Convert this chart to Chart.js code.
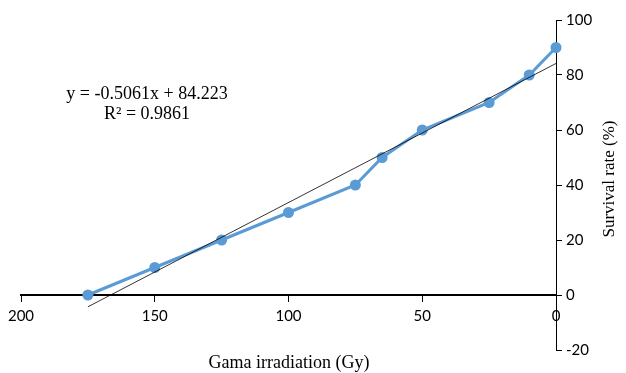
<!DOCTYPE html>
<html>
<head>
<meta charset="utf-8">
<script src="https://cdn.jsdelivr.net/npm/chart.js@4"></script>
<style>
  html, body { margin: 0; padding: 0; background: #fff; }
  #wrap { width: 626px; height: 373px; }
</style>
</head>
<body>
<div id="wrap"><canvas id="myChart"></canvas></div>
<script>
// dosis (Gy) y supervivencia (%)
const doses = [175, 150, 125, 100, 75, 65, 50, 25, 10, 0];
const survival = [0, 10, 20, 30, 40, 50, 60, 70, 80, 90];

// linea de tendencia (extremos)
const trendX = [175, 0];
const trendY = [-4.3, 84.2];

const xTicks = [200, 150, 100, 50, 0];
const yTicks = [-20, 0, 20, 40, 60, 80, 100];

const equationText = 'y = -0.5061x + 84.223';
const r2Text = 'R\u00B2 = 0.9861';
const xTitle = 'Gama irradiation (Gy)';
const yTitle = 'Survival rate (%)';

const pts = doses.map((d, i) => ({ x: d, y: survival[i] }));
const trendPts = trendX.map((d, i) => ({ x: d, y: trendY[i] }));

const serif = '"Liberation Serif", "Times New Roman", serif';

const extraText = {
    id: 'extraText',
    afterDraw(chart) {
        const ctx = chart.ctx;
        ctx.save();
        ctx.fillStyle = '#000';
        ctx.textAlign = 'center';
        ctx.textBaseline = 'middle';

        // ecuacion de la tendencia
        ctx.font = '18px ' + serif;
        ctx.fillText(equationText, 147, 94);
        ctx.fillText(r2Text, 147, 114);

        // titulos de los ejes
        ctx.font = '18px ' + serif;
        ctx.fillText(xTitle, 289, 363);

        ctx.font = '17px ' + serif;
        ctx.translate(610, 179);
        ctx.rotate(-Math.PI / 2);
        ctx.fillText(yTitle, 0, 0);
        ctx.restore();
    }
};

const ctx = document.getElementById('myChart').getContext('2d');
new Chart(ctx, {
    type: 'scatter',
    data: {
        datasets: [{
            label: 'Survival',
            data: pts,
            showLine: true,
            borderColor: '#5B9BD5',
            backgroundColor: '#5B9BD5',
            borderWidth: 3,
            pointRadius: 4,
            pointHoverRadius: 4,
            clip: false,
            order: 2
        }, {
            label: 'Trend',
            data: trendPts,
            showLine: true,
            borderColor: '#000',
            borderWidth: 0.8,
            pointRadius: 0,
            order: 1
        }]
    },
    options: {
        responsive: true,
        maintainAspectRatio: false,
        animation: false,
        devicePixelRatio: 1,
        layout: {
            padding: { left: 21, top: 20, bottom: 23, right: 0 }
        },
        plugins: {
            legend: { display: false },
            tooltip: { enabled: false }
        },
        scales: {
            x: {
                type: 'linear',
                reverse: true,
                min: 0,
                max: 200,
                position: { y: 0 },
                afterFit: s => { s.height = 0; },
                afterBuildTicks: s => { s.ticks = xTicks.map(v => ({ value: v })); },
                border: { display: true, color: '#000', width: 2 },
                grid: { drawOnChartArea: false, drawTicks: true, tickLength: 6, color: '#000', lineWidth: 1 },
                ticks: {
                    color: '#000',
                    padding: 6,
                    maxRotation: 0,
                    font: { family: 'Lato, "Open Sans", sans-serif', size: 15 }
                }
            },
            y: {
                type: 'linear',
                position: 'right',
                min: -20,
                max: 100,
                afterFit: s => { s.width = 70; },
                afterBuildTicks: s => { s.ticks = yTicks.map(v => ({ value: v })); },
                border: { display: true, color: '#000', width: 1 },
                grid: { drawOnChartArea: false, drawTicks: true, tickLength: 6, color: '#000', lineWidth: 1 },
                ticks: {
                    color: '#000',
                    padding: 4,
                    font: { family: 'Lato, "Open Sans", sans-serif', size: 15 }
                }
            }
        }
    },
    plugins: [extraText]
});
</script>
</body>
</html>
